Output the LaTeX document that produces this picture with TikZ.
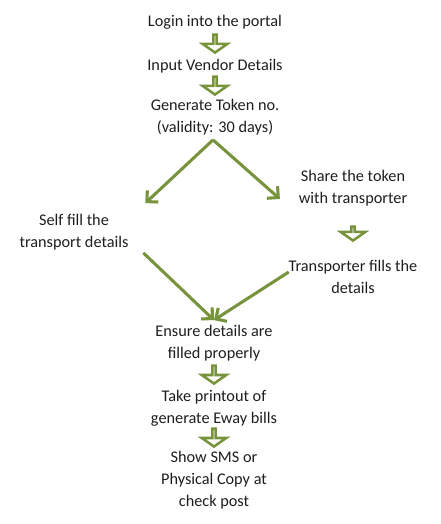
\documentclass[tikz,border=0pt]{standalone}
\usepackage{fontspec}
\setmainfont{Carlito}
\usetikzlibrary{arrows.meta,shapes.arrows}
\definecolor{leafgreen}{RGB}{119,147,60}
\definecolor{inkgray}{RGB}{30,30,30}
\begin{document}
\begin{tikzpicture}[x=0.75pt, y=-0.75pt, color=leafgreen,
      every node/.append style={font=\fontsize{12.2}{16.5}\selectfont},
      flow/.style={line width=2.3pt, -{Straight Barb[length=6pt,width=12pt]}, shorten <=0pt}]
    \tikzstyle{step text} = [align=center,text=inkgray,inner sep=2pt]
    \tikzstyle{down} = [single arrow,shape border rotate=270,draw=leafgreen,fill=white,line width=1.9pt,
      inner sep=0pt,minimum width=18.4pt,minimum height=13.5pt,single arrow head extend=6.2pt,
      single arrow tip angle=110]
    \useasboundingbox (0,0) rectangle (440,524);
    % main column
    \node (login) [step text] at (215,22) {Login into the portal};
    \node (vendor) [step text] at (215,66) {Input Vendor Details};
    \node (token) [step text] at (215,117) {Generate Token no.\\(validity: 30 days)};
    % the two branches
    \node (self) [step text] at (74,232) {Self fill the\\transport details};
    \node (share) [step text] at (353,188) {Share the token\\with transporter};
    \node (fills) [step text] at (353,277) {Transporter fills the\\details};
    % back to one column
    \node (ensure) [step text] at (214,343) {Ensure details are\\filled properly};
    \node (printout) [step text] at (214,408) {Take printout of\\generate Eway bills};
    \node (show) [step text] at (214,480) {Show SMS or\\Physical Copy at\\check post};
    % block arrows
    \node (down1) [down] at (215,43) {};
    \node (down2) [down] at (215,85) {};
    \node (down3) [down,minimum height=10.5pt] at (353,233) {};
    \node (down4) [down] at (214,374) {};
    \node (down5) [down] at (214,437) {};
    % diagonal connectors
    \draw[flow] ([shift={(-2,2)}]token.south) -- ([shift={(14,-8)}]self.north east);
    \draw[flow] ([shift={(-2,2)}]token.south) -- ([shift={(-16,11)}]share.west);
    \draw[flow] ([shift={(12,0)}]self.south east) -- ([shift={(0,-2)}]ensure.north);
    \draw[flow] ([shift={(3,-5)}]fills.west) -- ([shift={(0,-2)}]ensure.north);
\end{tikzpicture}
\end{document}
